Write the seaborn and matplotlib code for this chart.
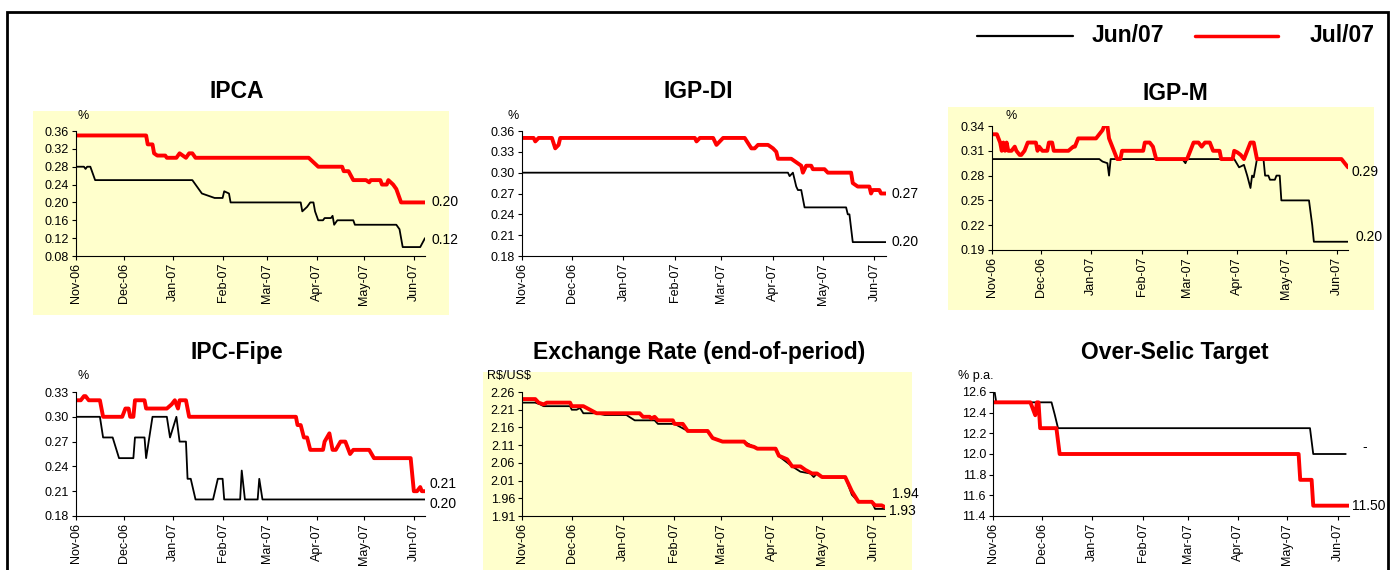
import matplotlib
matplotlib.use("Agg")
import matplotlib.pyplot as plt
import matplotlib.dates as mdates
from matplotlib.lines import Line2D
from matplotlib.patches import Rectangle
from matplotlib.ticker import FormatStrFormatter
import pandas as pd
import seaborn as sns

# ---- data (daily market expectations) ----
series_names = ["Jun/07", "Jul/07"]

ipca_jun_dates = ["2006-11-01", "2006-11-06", "2006-11-07", "2006-11-08", "2006-11-10", "2006-11-13",
                  "2007-01-13", "2007-01-16", "2007-01-19", "2007-01-23", "2007-01-27", "2007-02-01",
                  "2007-02-02", "2007-02-05", "2007-02-06", "2007-03-22", "2007-03-23", "2007-03-26",
                  "2007-03-28", "2007-03-30", "2007-03-31", "2007-04-02", "2007-04-05", "2007-04-06",
                  "2007-04-10", "2007-04-11", "2007-04-12", "2007-04-14", "2007-04-24", "2007-04-25",
                  "2007-05-21", "2007-05-23", "2007-05-25", "2007-06-05", "2007-06-08"]
ipca_jun_vals = [0.28, 0.28, 0.275, 0.28, 0.28, 0.25,
                 0.25, 0.235, 0.22, 0.215, 0.21, 0.21,
                 0.225, 0.22, 0.20, 0.20, 0.18, 0.19,
                 0.20, 0.20, 0.18, 0.16, 0.16, 0.165,
                 0.165, 0.17, 0.15, 0.16, 0.16, 0.15,
                 0.15, 0.14, 0.10, 0.10, 0.12]
ipca_jul_dates = ["2006-11-01", "2006-12-15", "2006-12-16", "2006-12-19", "2006-12-20", "2006-12-22",
                  "2006-12-27", "2006-12-28", "2007-01-03", "2007-01-05", "2007-01-07", "2007-01-09",
                  "2007-01-11", "2007-01-13", "2007-01-15", "2007-03-27", "2007-03-30", "2007-04-02",
                  "2007-04-17", "2007-04-18", "2007-04-21", "2007-04-24", "2007-05-02", "2007-05-04",
                  "2007-05-05", "2007-05-11", "2007-05-12", "2007-05-15", "2007-05-16", "2007-05-19",
                  "2007-05-21", "2007-05-24", "2007-06-08"]
ipca_jul_vals = [0.35, 0.35, 0.33, 0.33, 0.31, 0.305,
                 0.305, 0.30, 0.30, 0.31, 0.305, 0.30,
                 0.31, 0.31, 0.30, 0.30, 0.29, 0.28,
                 0.28, 0.27, 0.27, 0.25, 0.25, 0.245,
                 0.25, 0.25, 0.24, 0.24, 0.25, 0.24,
                 0.23, 0.20, 0.20]

igpdi_jun_dates = ["2006-11-01", "2007-04-10", "2007-04-11", "2007-04-13", "2007-04-15", "2007-04-16",
                   "2007-04-18", "2007-04-20", "2007-05-15", "2007-05-16", "2007-05-17", "2007-05-19",
                   "2007-06-08"]
igpdi_jun_vals = [0.30, 0.30, 0.295, 0.30, 0.28, 0.275,
                  0.275, 0.25, 0.25, 0.24, 0.24, 0.20,
                  0.20]
igpdi_jul_dates = ["2006-11-01", "2006-11-08", "2006-11-09", "2006-11-11", "2006-11-19", "2006-11-21",
                   "2006-11-23", "2006-11-24", "2007-02-13", "2007-02-14", "2007-02-16", "2007-02-24",
                   "2007-02-26", "2007-02-28", "2007-03-02", "2007-03-15", "2007-03-19", "2007-03-21",
                   "2007-03-23", "2007-03-29", "2007-04-01", "2007-04-03", "2007-04-04", "2007-04-12",
                   "2007-04-15", "2007-04-18", "2007-04-19", "2007-04-21", "2007-04-24", "2007-04-25",
                   "2007-05-02", "2007-05-04", "2007-05-18", "2007-05-19", "2007-05-22", "2007-05-29",
                   "2007-05-30", "2007-05-31", "2007-06-04", "2007-06-05", "2007-06-08"]
igpdi_jul_vals = [0.35, 0.35, 0.345, 0.35, 0.35, 0.335,
                  0.34, 0.35, 0.35, 0.345, 0.35, 0.35,
                  0.34, 0.345, 0.35, 0.35, 0.335, 0.335,
                  0.34, 0.34, 0.335, 0.33, 0.32, 0.32,
                  0.315, 0.31, 0.30, 0.31, 0.31, 0.305,
                  0.305, 0.30, 0.30, 0.285, 0.28, 0.28,
                  0.27, 0.275, 0.275, 0.27, 0.27]

igpm_jun_dates = ["2006-11-01", "2007-01-06", "2007-01-08", "2007-01-11", "2007-01-12", "2007-01-13",
                  "2007-02-26", "2007-02-28", "2007-03-01", "2007-03-30", "2007-04-02", "2007-04-05",
                  "2007-04-07", "2007-04-09", "2007-04-10", "2007-04-11", "2007-04-13", "2007-04-17",
                  "2007-04-18", "2007-04-20", "2007-04-21", "2007-04-24", "2007-04-25", "2007-04-27",
                  "2007-04-28", "2007-05-15", "2007-05-17", "2007-05-18", "2007-06-08"]
igpm_jun_vals = [0.30, 0.30, 0.297, 0.295, 0.28, 0.30,
                 0.30, 0.295, 0.30, 0.30, 0.29, 0.293,
                 0.28, 0.265, 0.28, 0.278, 0.30, 0.30,
                 0.28, 0.28, 0.275, 0.275, 0.28, 0.28,
                 0.25, 0.25, 0.22, 0.20, 0.20]
igpm_jul_dates = ["2006-11-01", "2006-11-04", "2006-11-06", "2006-11-07", "2006-11-08", "2006-11-09",
                  "2006-11-10", "2006-11-11", "2006-11-13", "2006-11-15", "2006-11-16", "2006-11-18",
                  "2006-11-19", "2006-11-21", "2006-11-23", "2006-11-28", "2006-11-29", "2006-11-30",
                  "2006-12-02", "2006-12-05", "2006-12-06", "2006-12-08", "2006-12-09", "2006-12-18",
                  "2006-12-21", "2006-12-22", "2006-12-24", "2007-01-04", "2007-01-06", "2007-01-08",
                  "2007-01-09", "2007-01-11", "2007-01-12", "2007-01-14", "2007-01-17", "2007-01-19",
                  "2007-01-20", "2007-02-02", "2007-02-03", "2007-02-06", "2007-02-08", "2007-02-10",
                  "2007-03-01", "2007-03-02", "2007-03-05", "2007-03-08", "2007-03-10", "2007-03-12",
                  "2007-03-15", "2007-03-17", "2007-03-21", "2007-03-22", "2007-03-29", "2007-03-30",
                  "2007-04-01", "2007-04-03", "2007-04-05", "2007-04-07", "2007-04-09", "2007-04-11",
                  "2007-04-13", "2007-06-04", "2007-06-06", "2007-06-08"]
igpm_jul_vals = [0.33, 0.33, 0.32, 0.31, 0.32, 0.31,
                 0.32, 0.31, 0.31, 0.315, 0.31, 0.305,
                 0.305, 0.31, 0.32, 0.32, 0.31, 0.315,
                 0.31, 0.31, 0.32, 0.32, 0.31, 0.31,
                 0.315, 0.315, 0.325, 0.325, 0.33, 0.335,
                 0.34, 0.34, 0.325, 0.315, 0.30, 0.30,
                 0.31, 0.31, 0.32, 0.32, 0.315, 0.30,
                 0.30, 0.305, 0.32, 0.32, 0.315, 0.32,
                 0.32, 0.31, 0.31, 0.30, 0.30, 0.31,
                 0.308, 0.305, 0.30, 0.31, 0.32, 0.32,
                 0.30, 0.30, 0.295, 0.29]

fipe_jun_dates = ["2006-11-01", "2006-11-16", "2006-11-18", "2006-11-24", "2006-11-28", "2006-12-07",
                  "2006-12-08", "2006-12-14", "2006-12-15", "2006-12-19", "2006-12-28", "2006-12-30",
                  "2007-01-03", "2007-01-05", "2007-01-09", "2007-01-10", "2007-01-12", "2007-01-15",
                  "2007-01-26", "2007-01-29", "2007-02-01", "2007-02-02", "2007-02-12", "2007-02-13",
                  "2007-02-15", "2007-02-23", "2007-02-24", "2007-02-26", "2007-06-08"]
fipe_jun_vals = [0.30, 0.30, 0.275, 0.275, 0.25, 0.25,
                 0.275, 0.275, 0.25, 0.30, 0.30, 0.275,
                 0.30, 0.27, 0.27, 0.225, 0.225, 0.20,
                 0.20, 0.225, 0.225, 0.20, 0.20, 0.235,
                 0.20, 0.20, 0.225, 0.20, 0.20]
fipe_jul_dates = ["2006-11-01", "2006-11-04", "2006-11-06", "2006-11-07", "2006-11-09", "2006-11-16",
                  "2006-11-18", "2006-11-30", "2006-12-02", "2006-12-04", "2006-12-05", "2006-12-07",
                  "2006-12-08", "2006-12-14", "2006-12-15", "2006-12-28", "2006-12-31", "2007-01-02",
                  "2007-01-04", "2007-01-05", "2007-01-09", "2007-01-11", "2007-03-19", "2007-03-20",
                  "2007-03-22", "2007-03-24", "2007-03-26", "2007-03-28", "2007-04-05", "2007-04-06",
                  "2007-04-09", "2007-04-11", "2007-04-13", "2007-04-16", "2007-04-19", "2007-04-21",
                  "2007-04-22", "2007-04-24", "2007-05-04", "2007-05-07", "2007-05-30", "2007-06-01",
                  "2007-06-03", "2007-06-05", "2007-06-06", "2007-06-08"]
fipe_jul_vals = [0.32, 0.32, 0.325, 0.325, 0.32, 0.32,
                 0.30, 0.30, 0.31, 0.31, 0.30, 0.30,
                 0.32, 0.32, 0.31, 0.31, 0.315, 0.32,
                 0.31, 0.32, 0.32, 0.30, 0.30, 0.29,
                 0.29, 0.275, 0.275, 0.26, 0.26, 0.27,
                 0.28, 0.26, 0.26, 0.27, 0.27, 0.26,
                 0.255, 0.26, 0.26, 0.25, 0.25, 0.21,
                 0.21, 0.215, 0.21, 0.21]

fx_jun_dates = ["2006-11-01", "2006-11-09", "2006-11-12", "2006-11-14", "2006-11-30", "2006-12-01",
                "2006-12-04", "2006-12-06", "2006-12-08", "2006-12-16", "2006-12-21", "2007-01-03",
                "2007-01-08", "2007-01-20", "2007-01-22", "2007-02-01", "2007-02-07", "2007-02-09",
                "2007-02-21", "2007-02-24", "2007-03-02", "2007-03-15", "2007-03-19", "2007-03-23",
                "2007-04-03", "2007-04-06", "2007-04-13", "2007-04-18", "2007-04-24", "2007-04-26",
                "2007-04-28", "2007-05-01", "2007-05-15", "2007-05-19", "2007-05-23", "2007-05-31",
                "2007-06-02", "2007-06-08"]
fx_jun_vals = [2.23, 2.23, 2.225, 2.22, 2.22, 2.21,
               2.21, 2.215, 2.20, 2.20, 2.195, 2.195,
               2.18, 2.18, 2.17, 2.17, 2.155, 2.15,
               2.15, 2.13, 2.12, 2.12, 2.11, 2.10,
               2.10, 2.075, 2.05, 2.035, 2.03, 2.02,
               2.03, 2.02, 2.02, 1.97, 1.95, 1.95,
               1.93, 1.93]
fx_jul_dates = ["2006-11-01", "2006-11-09", "2006-11-11", "2006-11-14", "2006-11-16", "2006-11-30",
                "2006-12-01", "2006-12-08", "2006-12-10", "2006-12-14", "2006-12-16", "2007-01-11",
                "2007-01-13", "2007-01-17", "2007-01-18", "2007-01-20", "2007-01-22", "2007-01-31",
                "2007-02-01", "2007-02-06", "2007-02-09", "2007-02-21", "2007-02-24", "2007-02-27",
                "2007-03-02", "2007-03-15", "2007-03-17", "2007-03-21", "2007-03-23", "2007-04-03",
                "2007-04-05", "2007-04-10", "2007-04-13", "2007-04-18", "2007-04-21", "2007-04-25",
                "2007-04-28", "2007-05-01", "2007-05-15", "2007-05-17", "2007-05-19", "2007-05-23",
                "2007-05-31", "2007-06-02", "2007-06-06", "2007-06-08"]
fx_jul_vals = [2.24, 2.24, 2.23, 2.225, 2.23, 2.23,
               2.22, 2.22, 2.215, 2.205, 2.20, 2.20,
               2.19, 2.19, 2.185, 2.19, 2.18, 2.18,
               2.17, 2.17, 2.15, 2.15, 2.13, 2.125,
               2.12, 2.12, 2.11, 2.105, 2.10, 2.10,
               2.08, 2.07, 2.05, 2.05, 2.04, 2.03,
               2.03, 2.02, 2.02, 2.00, 1.98, 1.95,
               1.95, 1.94, 1.94, 1.935]

selic_jun_dates = ["2006-11-01", "2006-11-02", "2006-11-03", "2006-12-07", "2006-12-09", "2006-12-11",
                   "2007-05-15", "2007-05-17", "2007-06-06"]
selic_jun_vals = [12.6, 12.6, 12.5, 12.5, 12.38, 12.25,
                  12.25, 12.0, 12.0]
selic_jul_dates = ["2006-11-01", "2006-11-24", "2006-11-27", "2006-11-28", "2006-11-29", "2006-11-30",
                   "2006-12-10", "2006-12-12", "2007-05-08", "2007-05-09", "2007-05-16", "2007-05-17",
                   "2007-06-08"]
selic_jul_vals = [12.5, 12.5, 12.375, 12.5, 12.5, 12.25,
                  12.25, 12.0, 12.0, 11.75, 11.75, 11.5,
                  11.5]

# end-of-line labels (Jun/07, Jul/07)
ipca_end = ["0.12", "0.20"]
igpdi_end = ["0.20", "0.27"]
igpm_end = ["0.20", "0.29"]
fipe_end = ["0.20", "0.21"]
fx_end = ["1.93", "1.94"]
selic_end = ["-", "11.50"]

W, H = 1394, 570
x_start, x_end = pd.Timestamp("2006-11-01"), pd.Timestamp("2007-06-08")

sns.set_style("ticks")
plt.rcParams["font.family"] = ["Liberation Sans", "DejaVu Sans"]
plt.rcParams["text.color"] = "black"

fig = plt.figure(figsize=(W / 100, H / 100), dpi=100)


def rect(x0, y0, x1, y1):
    return [x0 / W, 1 - y1 / H, (x1 - x0) / W, (y1 - y0) / H]


def make_df(jun_d, jun_v, jul_d, jul_v):
    a = pd.DataFrame({"date": pd.to_datetime(jun_d), "value": jun_v, "series": series_names[0]})
    b = pd.DataFrame({"date": pd.to_datetime(jul_d), "value": jul_v, "series": series_names[1]})
    return pd.concat([a, b], ignore_index=True)


panels = [
    dict(title="IPCA", unit="%", df=make_df(ipca_jun_dates, ipca_jun_vals, ipca_jul_dates, ipca_jul_vals),
         ylim=(0.08, 0.36), step=0.04, fmt="%.2f", box=(76, 131, 425, 256), tpos=(237, 91), upos=(77, 116),
         ends=ipca_end, offs=[(7, 2), (7, 0)], yellow=(33, 111, 449, 315)),
    dict(title="IGP-DI", unit="%", df=make_df(igpdi_jun_dates, igpdi_jun_vals, igpdi_jul_dates, igpdi_jul_vals),
         ylim=(0.18, 0.36), step=0.03, fmt="%.2f", box=(522, 131, 886, 256), tpos=(698, 91), upos=(508, 116),
         ends=igpdi_end, offs=[(6, 0), (6, 0)], yellow=None),
    dict(title="IGP-M", unit="%", df=make_df(igpm_jun_dates, igpm_jun_vals, igpm_jul_dates, igpm_jul_vals),
         ylim=(0.19, 0.34), step=0.03, fmt="%.2f", box=(992, 126, 1348, 250), tpos=(1175, 93), upos=(1005, 116),
         ends=igpm_end, offs=[(7, -5), (4, 5)], yellow=(948, 107, 1374, 310)),
    dict(title="IPC-Fipe", unit="%", df=make_df(fipe_jun_dates, fipe_jun_vals, fipe_jul_dates, fipe_jul_vals),
         ylim=(0.18, 0.33), step=0.03, fmt="%.2f", box=(76, 392, 425, 516), tpos=(237, 353), upos=(77, 376),
         ends=fipe_end, offs=[(5, 5), (5, -7)], yellow=None),
    dict(title="Exchange Rate (end-of-period)", unit=r"R\$/US\$",
         df=make_df(fx_jun_dates, fx_jun_vals, fx_jul_dates, fx_jul_vals),
         ylim=(1.91, 2.26), step=0.05, fmt="%.2f", box=(522, 392, 885, 516), tpos=(699, 353), upos=(487, 376),
         ends=fx_end, offs=[(4, 2), (7, -13)], yellow=(483, 372, 912, 580)),
    dict(title="Over-Selic Target", unit="% p.a.",
         df=make_df(selic_jun_dates, selic_jun_vals, selic_jul_dates, selic_jul_vals),
         ylim=(11.4, 12.6), step=0.2, fmt="%.1f", box=(993, 392, 1349, 516), tpos=(1175, 353), upos=(958, 376),
         ends=selic_end, offs=[(17, -7), (3, 0)], yellow=None),
]

for p in panels:
    if p["yellow"] is not None:
        x0, y0, x1, y1 = p["yellow"]
        fig.add_artist(Rectangle((x0 / W, 1 - y1 / H), (x1 - x0) / W, (y1 - y0) / H,
                                 transform=fig.transFigure, facecolor="#FFFFCC", edgecolor="none", zorder=0))

    ax = fig.add_axes(rect(*p["box"]))
    ax.set_facecolor("none")
    ax.set_zorder(2)
    sns.lineplot(data=p["df"], x="date", y="value", hue="series", size="series",
                 hue_order=series_names, size_order=series_names,
                 palette={"Jun/07": "black", "Jul/07": "#FF0000"},
                 sizes={"Jun/07": 1.3, "Jul/07": 2.8},
                 estimator=None, sort=False, legend=False, ax=ax)

    lo, hi = p["ylim"]
    n = int(round((hi - lo) / p["step"]))
    ax.set_ylim(lo, hi)
    ax.set_yticks([lo + i * p["step"] for i in range(n + 1)])
    ax.yaxis.set_major_formatter(FormatStrFormatter(p["fmt"]))
    ax.set_xlim(x_start, x_end)
    ax.xaxis.set_major_locator(mdates.MonthLocator())
    ax.xaxis.set_major_formatter(mdates.DateFormatter("%b-%y"))
    ax.tick_params(axis="both", labelsize=9, length=3, width=0.8, pad=2, color="black", labelcolor="black")
    ax.tick_params(axis="x", labelrotation=90)
    ax.set_xlabel("")
    ax.set_ylabel("")
    sns.despine(ax=ax)
    for s in ["left", "bottom"]:
        ax.spines[s].set_color("black")
        ax.spines[s].set_linewidth(0.8)

    # end labels
    for name, txt, (dx, dy) in zip(series_names, p["ends"], p["offs"]):
        sub = p["df"][p["df"]["series"] == name]
        last = sub.iloc[-1]
        ax.annotate(txt, xy=(last["date"], last["value"]), xytext=(dx * 0.72, -dy * 0.72),
                    textcoords="offset points", ha="left", va="center", fontsize=10,
                    color="black", annotation_clip=False)

    fig.text(p["tpos"][0] / W, 1 - p["tpos"][1] / H, p["title"], ha="center", va="center",
             fontsize=16.5, fontweight="bold", color="black")
    fig.text(p["upos"][0] / W, 1 - p["upos"][1] / H, p["unit"], ha="left", va="center",
             fontsize=9, color="black")

# legend drawn at the top right
fig.add_artist(Line2D([977 / W, 1073 / W], [1 - 36 / H] * 2, color="black", lw=1.6, transform=fig.transFigure))
fig.text(1092 / W, 1 - 36 / H, series_names[0], ha="left", va="center", fontsize=16.5, fontweight="bold")
fig.add_artist(Line2D([1195 / W, 1278 / W], [1 - 36 / H] * 2, color="#FF0000", lw=2.5, transform=fig.transFigure))
fig.text(1375 / W, 1 - 36 / H, series_names[1], ha="right", va="center", fontsize=16.5, fontweight="bold")

# outer frame
fig.add_artist(Rectangle((6.5 / W, -0.05), (1387.5 - 6.5) / W, 1.05 - 12 / H, transform=fig.transFigure,
                         facecolor="none", edgecolor="black", lw=2, zorder=5))

fig.savefig("out.png", dpi=100)
